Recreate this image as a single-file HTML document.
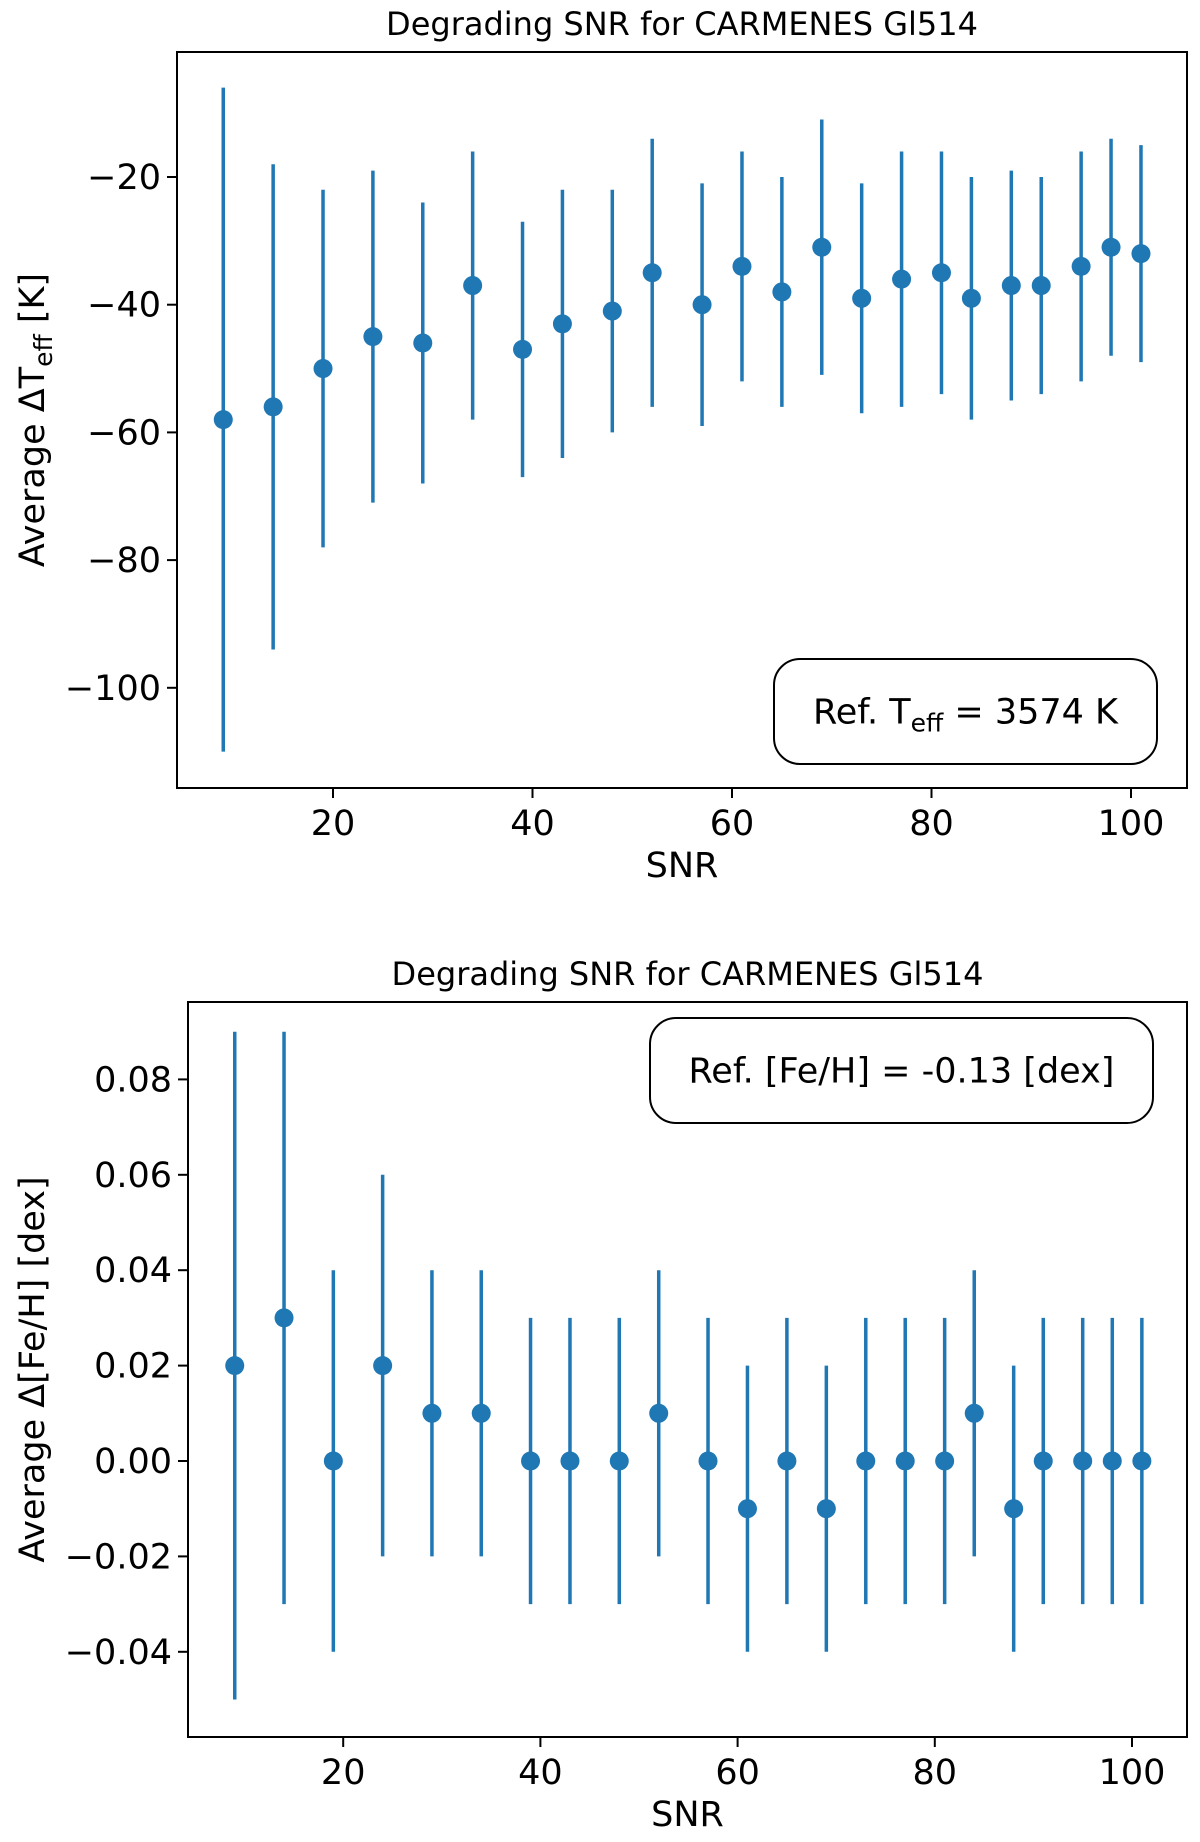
<!DOCTYPE html>
<html><head><meta charset="utf-8"><style>
html,body{margin:0;padding:0;background:#fff;}
svg{display:block;font-family:"DejaVu Sans","Liberation Sans",sans-serif;}
</style></head><body>
<svg id="fig" width="1200" height="1842" viewBox="0 0 1200 1842" xmlns="http://www.w3.org/2000/svg"></svg>
<script>
const snrTop = [9,14,19,24,29,34,39,43,48,52,57,61,65,69,73,77,81,84,88,91,95,98,101];
const teffVals = [-58,-56,-50,-45,-46,-37,-47,-43,-41,-35,-40,-34,-38,-31,-39,-36,-35,-39,-37,-37,-34,-31,-32];
const teffErr = [52,38,28,26,22,21,20,21,19,21,19,18,18,20,18,20,19,19,18,17,18,17,17];
const teffTicks = [-20,-40,-60,-80,-100];
const snrBot = [9,14,19,24,29,34,39,43,48,52,57,61,65,69,73,77,81,84,88,91,95,98,101];
const fehVals = [0.02,0.03,0,0.02,0.01,0.01,0,0,0,0.01,0,-0.01,0,-0.01,0,0,0,0.01,-0.01,0,0,0,0];
const fehErr = [0.07,0.06,0.04,0.04,0.03,0.03,0.03,0.03,0.03,0.03,0.03,0.03,0.03,0.03,0.03,0.03,0.03,0.03,0.03,0.03,0.03,0.03,0.03];
const fehTicks = [0.08,0.06,0.04,0.02,0,-0.02,-0.04];
const fehTickLabels = ["0.08","0.06","0.04","0.02","0.00","\u22120.02","\u22120.04"];
const snrTicks = [20,40,60,80,100];

const NS="http://www.w3.org/2000/svg";
const svg=document.getElementById('fig');
function mk(tag,attrs,parent){const e=document.createElementNS(NS,tag);for(const k in attrs)e.setAttribute(k,attrs[k]);(parent||svg).appendChild(e);return e;}

function panel(cfg){
  const g=mk('g',{});
  
  
  const xs=v=>cfg.x0+v*cfg.xk;
  const ys=v=>cfg.y0-v*cfg.yk;
  const t=mk('text',{x:(cfg.L+cfg.R)/2,y:cfg.T-17,'font-size':32,'text-anchor':'middle'},g);
  t.textContent=cfg.title;
  
  
  const fr=mk('rect',{x:cfg.L,y:cfg.T,width:cfg.R-cfg.L,height:cfg.B-cfg.T,fill:'none',stroke:'#000','stroke-width':2},g);
  
  
  snrTicks.forEach(v=>{
    const x=xs(v);
    mk('line',{x1:x,x2:x,y1:cfg.B,y2:cfg.B+10,stroke:'#000','stroke-width':2},g);
    const l=mk('text',{x:x,y:cfg.B+47,'font-size':35,'text-anchor':'middle'},g);
    l.textContent=String(v);
    
    
  });
  cfg.ticks.forEach((v,i)=>{
    const y=ys(v);
    mk('line',{x1:cfg.L-10,x2:cfg.L,y1:y,y2:y,stroke:'#000','stroke-width':2},g);
    const l=mk('text',{x:cfg.L-16,y:y+12,'font-size':35,'text-anchor':'end'},g);
    l.textContent=cfg.tickLabels[i];
    
    
  });
  const xl=mk('text',{x:(cfg.L+cfg.R)/2,y:cfg.B+89,'font-size':35,'text-anchor':'middle'},g);
  xl.textContent='SNR';
  
  
  const yc=(cfg.T+cfg.B)/2;
  const yl=mk('text',{x:0,y:0,'font-size':35,'text-anchor':'middle',transform:`translate(44,${yc}) rotate(-90)`},g);
  yl.innerHTML=cfg.ylabel;
  
  
  cfg.xv.forEach((xv,i)=>{
    const x=xs(xv),y=cfg.yv[i],e=cfg.err[i];
    const ln=mk('line',{x1:x,x2:x,y1:ys(y+e),y2:ys(y-e),stroke:'#1f77b4','stroke-width':3.5},g);
    
    
    const c=mk('circle',{cx:x,cy:ys(y),r:9.5,fill:'#1f77b4'},g);
    
    
  });
  const b=cfg.box;
  const r=mk('rect',{x:b.x,y:b.y,width:b.w,height:b.h,rx:26,ry:26,fill:'#fff',stroke:'#000','stroke-width':2},g);
  
  
  const bt=mk('text',{x:b.x+b.w/2,y:b.y+b.h/2+12,'font-size':35,'text-anchor':'middle'},g);
  bt.innerHTML=b.text;
  
  
}

panel({name:'teff-panel',title:'Degrading SNR for CARMENES Gl514',L:177,R:1187,T:52,B:788,
  x0:133.5,xk:9.975,y0:177-20*6.385,yk:6.385,
  ticks:teffTicks,tickLabels:teffTicks.map(v=>'\u2212'+Math.abs(v)),
  ylabel:'Average \u0394T<tspan font-size="25" dy="8">eff</tspan><tspan dy="-8"> [K]</tspan>',
  xv:snrTop,yv:teffVals,err:teffErr,
  box:{x:774,y:659,w:383,h:105,text:'Ref. T<tspan font-size="25" dy="8">eff</tspan><tspan dy="-8"> = 3574 K</tspan>'}});

panel({name:'feh-panel',title:'Degrading SNR for CARMENES Gl514',L:188,R:1187,T:1002,B:1737,
  x0:146,xk:9.86,y0:1461,yk:4770,
  ticks:fehTicks,tickLabels:fehTickLabels,
  ylabel:'Average \u0394[Fe/H] [dex]',
  xv:snrBot,yv:fehVals,err:fehErr,
  box:{x:650,y:1018,w:503,h:105,text:'Ref. [Fe/H] = -0.13 [dex]'}});
</script>
</body></html>
